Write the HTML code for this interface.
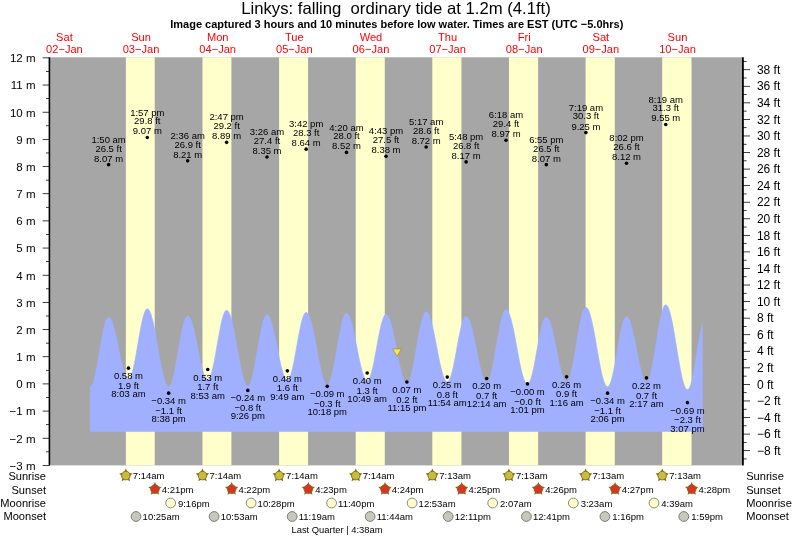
<!DOCTYPE html><html><head><meta charset="utf-8"><title>Tide</title>
<style>html,body{margin:0;padding:0;background:#fff}svg{display:block;will-change:transform}text{font-family:"Liberation Sans",sans-serif;fill:#000}</style></head><body>
<svg width="793" height="539" viewBox="0 0 793 539">
<rect width="793" height="539" fill="#fff"/>
<rect x="50" y="57.3" width="693" height="408.09999999999997" fill="#a6a6a6"/>
<rect x="125.85" y="57.3" width="28.86" height="408.09999999999997" fill="#ffffcc"/>
<rect x="202.48" y="57.3" width="28.91" height="408.09999999999997" fill="#ffffcc"/>
<rect x="279.11" y="57.3" width="28.97" height="408.09999999999997" fill="#ffffcc"/>
<rect x="355.74" y="57.3" width="29.02" height="408.09999999999997" fill="#ffffcc"/>
<rect x="432.32" y="57.3" width="29.13" height="408.09999999999997" fill="#ffffcc"/>
<rect x="508.95" y="57.3" width="29.18" height="408.09999999999997" fill="#ffffcc"/>
<rect x="585.58" y="57.3" width="29.23" height="408.09999999999997" fill="#ffffcc"/>
<rect x="662.22" y="57.3" width="29.29" height="408.09999999999997" fill="#ffffcc"/>
<path d="M90.30 431.55 L90.30 386.87 L90.80 386.66 L91.30 386.20 L91.80 385.49 L92.30 384.55 L92.80 383.36 L93.30 381.95 L93.80 380.32 L94.30 378.49 L94.80 376.46 L95.30 374.26 L95.80 371.90 L96.30 369.39 L96.80 366.76 L97.30 364.02 L97.80 361.19 L98.30 358.30 L98.80 355.36 L99.30 352.40 L99.80 349.43 L100.30 346.48 L100.80 343.57 L101.30 340.72 L101.80 337.96 L102.30 335.29 L102.80 332.75 L103.30 330.34 L103.80 328.09 L104.30 326.02 L104.80 324.13 L105.30 322.44 L105.80 320.97 L106.30 319.72 L106.80 318.70 L107.30 317.92 L107.80 317.39 L108.30 317.12 L108.80 317.08 L109.30 317.26 L109.80 317.62 L110.30 318.18 L110.80 318.92 L111.30 319.85 L111.80 320.95 L112.30 322.23 L112.80 323.66 L113.30 325.25 L113.80 326.98 L114.30 328.84 L114.80 330.82 L115.30 332.92 L115.80 335.10 L116.30 337.37 L116.80 339.70 L117.30 342.09 L117.80 344.51 L118.30 346.96 L118.80 349.41 L119.30 351.86 L119.80 354.28 L120.30 356.66 L120.80 358.99 L121.30 361.25 L121.80 363.43 L122.30 365.51 L122.80 367.49 L123.30 369.34 L123.80 371.06 L124.30 372.63 L124.80 374.05 L125.30 375.31 L125.80 376.40 L126.30 377.31 L126.80 378.04 L127.30 378.58 L127.80 378.93 L128.30 379.09 L128.80 379.04 L129.30 378.75 L129.80 378.21 L130.30 377.44 L130.80 376.44 L131.30 375.21 L131.80 373.76 L132.30 372.11 L132.80 370.26 L133.30 368.23 L133.80 366.03 L134.30 363.67 L134.80 361.18 L135.30 358.57 L135.80 355.85 L136.30 353.06 L136.80 350.20 L137.30 347.30 L137.80 344.37 L138.30 341.44 L138.80 338.53 L139.30 335.66 L139.80 332.84 L140.30 330.10 L140.80 327.46 L141.30 324.93 L141.80 322.53 L142.30 320.28 L142.80 318.20 L143.30 316.30 L143.80 314.58 L144.30 313.07 L144.80 311.78 L145.30 310.71 L145.80 309.87 L146.30 309.27 L146.80 308.91 L147.30 308.79 L147.80 308.90 L148.30 309.22 L148.80 309.74 L149.30 310.48 L149.80 311.41 L150.30 312.55 L150.80 313.87 L151.30 315.37 L151.80 317.06 L152.30 318.90 L152.80 320.91 L153.30 323.06 L153.80 325.34 L154.30 327.75 L154.80 330.26 L155.30 332.87 L155.80 335.56 L156.30 338.31 L156.80 341.12 L157.30 343.96 L157.80 346.82 L158.30 349.69 L158.80 352.54 L159.30 355.38 L159.80 358.16 L160.30 360.90 L160.80 363.56 L161.30 366.14 L161.80 368.61 L162.30 370.98 L162.80 373.21 L163.30 375.31 L163.80 377.27 L164.30 379.06 L164.80 380.68 L165.30 382.12 L165.80 383.38 L166.30 384.44 L166.80 385.31 L167.30 385.97 L167.80 386.42 L168.30 386.67 L168.80 386.70 L169.30 386.50 L169.80 386.06 L170.30 385.39 L170.80 384.48 L171.30 383.34 L171.80 381.99 L172.30 380.44 L172.80 378.68 L173.30 376.74 L173.80 374.62 L174.30 372.35 L174.80 369.93 L175.30 367.39 L175.80 364.73 L176.30 361.99 L176.80 359.17 L177.30 356.30 L177.80 353.40 L178.30 350.48 L178.80 347.57 L179.30 344.69 L179.80 341.84 L180.30 339.07 L180.80 336.37 L181.30 333.78 L181.80 331.31 L182.30 328.97 L182.80 326.78 L183.30 324.76 L183.80 322.93 L184.30 321.28 L184.80 319.84 L185.30 318.61 L185.80 317.60 L186.30 316.83 L186.80 316.28 L187.30 315.98 L187.80 315.91 L188.30 316.06 L188.80 316.39 L189.30 316.92 L189.80 317.64 L190.30 318.54 L190.80 319.62 L191.30 320.87 L191.80 322.29 L192.30 323.86 L192.80 325.58 L193.30 327.43 L193.80 329.41 L194.30 331.50 L194.80 333.69 L195.30 335.97 L195.80 338.32 L196.30 340.72 L196.80 343.17 L197.30 345.64 L197.80 348.13 L198.30 350.62 L198.80 353.09 L199.30 355.52 L199.80 357.91 L200.30 360.23 L200.80 362.48 L201.30 364.64 L201.80 366.69 L202.30 368.63 L202.80 370.44 L203.30 372.11 L203.80 373.63 L204.30 374.99 L204.80 376.19 L205.30 377.21 L205.80 378.05 L206.30 378.70 L206.80 379.16 L207.30 379.43 L207.80 379.51 L208.30 379.36 L208.80 378.98 L209.30 378.36 L209.80 377.50 L210.30 376.42 L210.80 375.12 L211.30 373.61 L211.80 371.90 L212.30 370.00 L212.80 367.93 L213.30 365.70 L213.80 363.32 L214.30 360.82 L214.80 358.20 L215.30 355.49 L215.80 352.71 L216.30 349.88 L216.80 347.01 L217.30 344.12 L217.80 341.24 L218.30 338.39 L218.80 335.58 L219.30 332.83 L219.80 330.17 L220.30 327.61 L220.80 325.18 L221.30 322.88 L221.80 320.73 L222.30 318.75 L222.80 316.95 L223.30 315.34 L223.80 313.95 L224.30 312.76 L224.80 311.80 L225.30 311.07 L225.80 310.57 L226.30 310.32 L226.80 310.30 L227.30 310.49 L227.80 310.89 L228.30 311.49 L228.80 312.29 L229.30 313.29 L229.80 314.47 L230.30 315.85 L230.80 317.39 L231.30 319.11 L231.80 320.98 L232.30 323.01 L232.80 325.17 L233.30 327.45 L233.80 329.85 L234.30 332.35 L234.80 334.93 L235.30 337.58 L235.80 340.30 L236.30 343.05 L236.80 345.84 L237.30 348.63 L237.80 351.42 L238.30 354.20 L238.80 356.94 L239.30 359.63 L239.80 362.26 L240.30 364.81 L240.80 367.27 L241.30 369.63 L241.80 371.86 L242.30 373.97 L242.80 375.94 L243.30 377.75 L243.80 379.40 L244.30 380.88 L244.80 382.18 L245.30 383.29 L245.80 384.21 L246.30 384.94 L246.80 385.46 L247.30 385.78 L247.80 385.89 L248.30 385.78 L248.80 385.43 L249.30 384.84 L249.80 384.03 L250.30 382.98 L250.80 381.72 L251.30 380.25 L251.80 378.57 L252.30 376.71 L252.80 374.67 L253.30 372.46 L253.80 370.11 L254.30 367.62 L254.80 365.02 L255.30 362.31 L255.80 359.53 L256.30 356.69 L256.80 353.80 L257.30 350.89 L257.80 347.97 L258.30 345.07 L258.80 342.21 L259.30 339.40 L259.80 336.67 L260.30 334.02 L260.80 331.49 L261.30 329.08 L261.80 326.81 L262.30 324.71 L262.80 322.77 L263.30 321.02 L263.80 319.47 L264.30 318.12 L264.80 316.99 L265.30 316.09 L265.80 315.41 L266.30 314.97 L266.80 314.77 L267.30 314.79 L267.80 315.01 L268.30 315.43 L268.80 316.03 L269.30 316.82 L269.80 317.79 L270.30 318.93 L270.80 320.25 L271.30 321.72 L271.80 323.35 L272.30 325.12 L272.80 327.02 L273.30 329.04 L273.80 331.17 L274.30 333.40 L274.80 335.71 L275.30 338.09 L275.80 340.52 L276.30 342.99 L276.80 345.49 L277.30 348.00 L277.80 350.51 L278.30 353.00 L278.80 355.45 L279.30 357.86 L279.80 360.20 L280.30 362.47 L280.80 364.64 L281.30 366.72 L281.80 368.68 L282.30 370.51 L282.80 372.21 L283.30 373.75 L283.80 375.14 L284.30 376.37 L284.80 377.42 L285.30 378.30 L285.80 378.99 L286.30 379.49 L286.80 379.80 L287.30 379.92 L287.80 379.83 L288.30 379.51 L288.80 378.95 L289.30 378.16 L289.80 377.15 L290.30 375.92 L290.80 374.48 L291.30 372.85 L291.80 371.03 L292.30 369.03 L292.80 366.87 L293.30 364.57 L293.80 362.14 L294.30 359.60 L294.80 356.97 L295.30 354.26 L295.80 351.49 L296.30 348.68 L296.80 345.86 L297.30 343.04 L297.80 340.24 L298.30 337.48 L298.80 334.79 L299.30 332.17 L299.80 329.65 L300.30 327.24 L300.80 324.97 L301.30 322.84 L301.80 320.88 L302.30 319.09 L302.80 317.50 L303.30 316.10 L303.80 314.91 L304.30 313.94 L304.80 313.20 L305.30 312.68 L305.80 312.40 L306.30 312.36 L306.80 312.52 L307.30 312.88 L307.80 313.44 L308.30 314.20 L308.80 315.15 L309.30 316.28 L309.80 317.59 L310.30 319.07 L310.80 320.71 L311.30 322.51 L311.80 324.45 L312.30 326.53 L312.80 328.73 L313.30 331.04 L313.80 333.44 L314.30 335.93 L314.80 338.49 L315.30 341.11 L315.80 343.76 L316.30 346.44 L316.80 349.14 L317.30 351.83 L317.80 354.50 L318.30 357.14 L318.80 359.73 L319.30 362.25 L319.80 364.71 L320.30 367.07 L320.80 369.32 L321.30 371.47 L321.80 373.48 L322.30 375.36 L322.80 377.08 L323.30 378.65 L323.80 380.05 L324.30 381.28 L324.80 382.32 L325.30 383.18 L325.80 383.84 L326.30 384.31 L326.80 384.58 L327.30 384.64 L327.80 384.48 L328.30 384.09 L328.80 383.47 L329.30 382.61 L329.80 381.53 L330.30 380.24 L330.80 378.73 L331.30 377.03 L331.80 375.15 L332.30 373.09 L332.80 370.87 L333.30 368.50 L333.80 366.00 L334.30 363.40 L334.80 360.69 L335.30 357.91 L335.80 355.07 L336.30 352.19 L336.80 349.29 L337.30 346.38 L337.80 343.49 L338.30 340.64 L338.80 337.85 L339.30 335.13 L339.80 332.50 L340.30 329.98 L340.80 327.58 L341.30 325.33 L341.80 323.24 L342.30 321.32 L342.80 319.58 L343.30 318.04 L343.80 316.70 L344.30 315.58 L344.80 314.68 L345.30 314.00 L345.80 313.56 L346.30 313.36 L346.80 313.38 L347.30 313.60 L347.80 314.01 L348.30 314.61 L348.80 315.40 L349.30 316.37 L349.80 317.51 L350.30 318.83 L350.80 320.31 L351.30 321.94 L351.80 323.71 L352.30 325.62 L352.80 327.65 L353.30 329.79 L353.80 332.03 L354.30 334.36 L354.80 336.76 L355.30 339.21 L355.80 341.72 L356.30 344.25 L356.80 346.80 L357.30 349.35 L357.80 351.88 L358.30 354.39 L358.80 356.85 L359.30 359.26 L359.80 361.60 L360.30 363.85 L360.80 366.01 L361.30 368.05 L361.80 369.98 L362.30 371.77 L362.80 373.42 L363.30 374.91 L363.80 376.25 L364.30 377.42 L364.80 378.41 L365.30 379.22 L365.80 379.85 L366.30 380.29 L366.80 380.53 L367.30 380.58 L367.80 380.41 L368.30 380.02 L368.80 379.39 L369.30 378.55 L369.80 377.49 L370.30 376.22 L370.80 374.76 L371.30 373.10 L371.80 371.27 L372.30 369.27 L372.80 367.12 L373.30 364.84 L373.80 362.43 L374.30 359.92 L374.80 357.33 L375.30 354.67 L375.80 351.96 L376.30 349.21 L376.80 346.46 L377.30 343.71 L377.80 340.99 L378.30 338.32 L378.80 335.71 L379.30 333.18 L379.80 330.75 L380.30 328.44 L380.80 326.26 L381.30 324.23 L381.80 322.36 L382.30 320.67 L382.80 319.16 L383.30 317.85 L383.80 316.75 L384.30 315.86 L384.80 315.19 L385.30 314.74 L385.80 314.52 L386.30 314.53 L386.80 314.74 L387.30 315.14 L387.80 315.73 L388.30 316.51 L388.80 317.47 L389.30 318.61 L389.80 319.92 L390.30 321.40 L390.80 323.03 L391.30 324.81 L391.80 326.73 L392.30 328.77 L392.80 330.92 L393.30 333.18 L393.80 335.53 L394.30 337.95 L394.80 340.43 L395.30 342.97 L395.80 345.53 L396.30 348.12 L396.80 350.71 L397.30 353.29 L397.80 355.84 L398.30 358.36 L398.80 360.82 L399.30 363.22 L399.80 365.53 L400.30 367.75 L400.80 369.86 L401.30 371.86 L401.80 373.72 L402.30 375.44 L402.80 377.02 L403.30 378.43 L403.80 379.68 L404.30 380.75 L404.80 381.64 L405.30 382.35 L405.80 382.86 L406.30 383.19 L406.80 383.32 L407.30 383.24 L407.80 382.92 L408.30 382.37 L408.80 381.58 L409.30 380.57 L409.80 379.34 L410.30 377.90 L410.80 376.26 L411.30 374.42 L411.80 372.41 L412.30 370.23 L412.80 367.90 L413.30 365.44 L413.80 362.85 L414.30 360.16 L414.80 357.39 L415.30 354.56 L415.80 351.67 L416.30 348.76 L416.80 345.84 L417.30 342.93 L417.80 340.06 L418.30 337.23 L418.80 334.47 L419.30 331.79 L419.80 329.22 L420.30 326.77 L420.80 324.46 L421.30 322.31 L421.80 320.32 L422.30 318.51 L422.80 316.89 L423.30 315.48 L423.80 314.28 L424.30 313.30 L424.80 312.55 L425.30 312.03 L425.80 311.74 L426.30 311.70 L426.80 311.85 L427.30 312.20 L427.80 312.74 L428.30 313.47 L428.80 314.38 L429.30 315.47 L429.80 316.73 L430.30 318.16 L430.80 319.75 L431.30 321.49 L431.80 323.36 L432.30 325.37 L432.80 327.49 L433.30 329.72 L433.80 332.05 L434.30 334.45 L434.80 336.92 L435.30 339.45 L435.80 342.02 L436.30 344.61 L436.80 347.22 L437.30 349.82 L437.80 352.41 L438.30 354.97 L438.80 357.48 L439.30 359.93 L439.80 362.31 L440.30 364.60 L440.80 366.79 L441.30 368.87 L441.80 370.84 L442.30 372.66 L442.80 374.35 L443.30 375.88 L443.80 377.25 L444.30 378.45 L444.80 379.48 L445.30 380.33 L445.80 380.99 L446.30 381.46 L446.80 381.74 L447.30 381.83 L447.80 381.70 L448.30 381.35 L448.80 380.77 L449.30 379.98 L449.80 378.96 L450.30 377.74 L450.80 376.32 L451.30 374.71 L451.80 372.93 L452.30 370.97 L452.80 368.87 L453.30 366.62 L453.80 364.26 L454.30 361.78 L454.80 359.22 L455.30 356.59 L455.80 353.91 L456.30 351.19 L456.80 348.46 L457.30 345.73 L457.80 343.02 L458.30 340.36 L458.80 337.75 L459.30 335.23 L459.80 332.80 L460.30 330.48 L460.80 328.29 L461.30 326.25 L461.80 324.37 L462.30 322.65 L462.80 321.12 L463.30 319.78 L463.80 318.65 L464.30 317.73 L464.80 317.02 L465.30 316.54 L465.80 316.29 L466.30 316.25 L466.80 316.42 L467.30 316.78 L467.80 317.33 L468.30 318.07 L468.80 318.99 L469.30 320.08 L469.80 321.35 L470.30 322.78 L470.80 324.36 L471.30 326.09 L471.80 327.95 L472.30 329.94 L472.80 332.04 L473.30 334.25 L473.80 336.54 L474.30 338.90 L474.80 341.32 L475.30 343.80 L475.80 346.30 L476.30 348.82 L476.80 351.34 L477.30 353.85 L477.80 356.33 L478.30 358.77 L478.80 361.16 L479.30 363.48 L479.80 365.71 L480.30 367.85 L480.80 369.87 L481.30 371.78 L481.80 373.56 L482.30 375.19 L482.80 376.67 L483.30 377.99 L483.80 379.15 L484.30 380.13 L484.80 380.92 L485.30 381.54 L485.80 381.96 L486.30 382.20 L486.80 382.23 L487.30 382.05 L487.80 381.62 L488.30 380.96 L488.80 380.07 L489.30 378.95 L489.80 377.62 L490.30 376.08 L490.80 374.34 L491.30 372.42 L491.80 370.32 L492.30 368.06 L492.80 365.65 L493.30 363.12 L493.80 360.47 L494.30 357.73 L494.80 354.91 L495.30 352.03 L495.80 349.11 L496.30 346.17 L496.80 343.23 L497.30 340.30 L497.80 337.41 L498.30 334.58 L498.80 331.83 L499.30 329.16 L499.80 326.61 L500.30 324.18 L500.80 321.90 L501.30 319.77 L501.80 317.82 L502.30 316.05 L502.80 314.47 L503.30 313.11 L503.80 311.96 L504.30 311.03 L504.80 310.33 L505.30 309.87 L505.80 309.64 L506.30 309.65 L506.80 309.85 L507.30 310.26 L507.80 310.86 L508.30 311.66 L508.80 312.64 L509.30 313.81 L509.80 315.15 L510.30 316.66 L510.80 318.33 L511.30 320.16 L511.80 322.13 L512.30 324.23 L512.80 326.45 L513.30 328.78 L513.80 331.21 L514.30 333.72 L514.80 336.30 L515.30 338.93 L515.80 341.61 L516.30 344.32 L516.80 347.04 L517.30 349.75 L517.80 352.45 L518.30 355.12 L518.80 357.75 L519.30 360.32 L519.80 362.81 L520.30 365.22 L520.80 367.53 L521.30 369.72 L521.80 371.80 L522.30 373.74 L522.80 375.54 L523.30 377.18 L523.80 378.65 L524.30 379.96 L524.80 381.09 L525.30 382.04 L525.80 382.79 L526.30 383.35 L526.80 383.72 L527.30 383.89 L527.80 383.85 L528.30 383.58 L528.80 383.08 L529.30 382.36 L529.80 381.41 L530.30 380.25 L530.80 378.89 L531.30 377.32 L531.80 375.57 L532.30 373.64 L532.80 371.56 L533.30 369.32 L533.80 366.96 L534.30 364.48 L534.80 361.90 L535.30 359.25 L535.80 356.53 L536.30 353.78 L536.80 350.99 L537.30 348.21 L537.80 345.44 L538.30 342.71 L538.80 340.03 L539.30 337.42 L539.80 334.91 L540.30 332.50 L540.80 330.21 L541.30 328.07 L541.80 326.09 L542.30 324.27 L542.80 322.63 L543.30 321.19 L543.80 319.96 L544.30 318.93 L544.80 318.12 L545.30 317.54 L545.80 317.19 L546.30 317.07 L546.80 317.16 L547.30 317.45 L547.80 317.93 L548.30 318.59 L548.80 319.44 L549.30 320.48 L549.80 321.68 L550.30 323.05 L550.80 324.58 L551.30 326.26 L551.80 328.08 L552.30 330.02 L552.80 332.08 L553.30 334.25 L553.80 336.51 L554.30 338.84 L554.80 341.24 L555.30 343.68 L555.80 346.16 L556.30 348.66 L556.80 351.17 L557.30 353.66 L557.80 356.13 L558.30 358.56 L558.80 360.93 L559.30 363.23 L559.80 365.46 L560.30 367.58 L560.80 369.60 L561.30 371.49 L561.80 373.25 L562.30 374.87 L562.80 376.34 L563.30 377.64 L563.80 378.78 L564.30 379.74 L564.80 380.52 L565.30 381.11 L565.80 381.51 L566.30 381.71 L566.80 381.72 L567.30 381.50 L567.80 381.02 L568.30 380.31 L568.80 379.36 L569.30 378.18 L569.80 376.78 L570.30 375.16 L570.80 373.34 L571.30 371.34 L571.80 369.15 L572.30 366.80 L572.80 364.30 L573.30 361.68 L573.80 358.94 L574.30 356.10 L574.80 353.19 L575.30 350.22 L575.80 347.22 L576.30 344.19 L576.80 341.17 L577.30 338.17 L577.80 335.21 L578.30 332.31 L578.80 329.50 L579.30 326.78 L579.80 324.18 L580.30 321.72 L580.80 319.40 L581.30 317.25 L581.80 315.29 L582.30 313.51 L582.80 311.94 L583.30 310.59 L583.80 309.46 L584.30 308.56 L584.80 307.90 L585.30 307.48 L585.80 307.30 L586.30 307.36 L586.80 307.63 L587.30 308.11 L587.80 308.79 L588.30 309.67 L588.80 310.75 L589.30 312.02 L589.80 313.47 L590.30 315.10 L590.80 316.90 L591.30 318.85 L591.80 320.95 L592.30 323.19 L592.80 325.56 L593.30 328.04 L593.80 330.61 L594.30 333.28 L594.80 336.01 L595.30 338.81 L595.80 341.64 L596.30 344.51 L596.80 347.39 L597.30 350.26 L597.80 353.12 L598.30 355.95 L598.80 358.73 L599.30 361.45 L599.80 364.09 L600.30 366.64 L600.80 369.09 L601.30 371.43 L601.80 373.63 L602.30 375.70 L602.80 377.61 L603.30 379.36 L603.80 380.95 L604.30 382.35 L604.80 383.57 L605.30 384.60 L605.80 385.42 L606.30 386.05 L606.80 386.47 L607.30 386.69 L607.80 386.69 L608.30 386.45 L608.80 385.98 L609.30 385.27 L609.80 384.33 L610.30 383.17 L610.80 381.79 L611.30 380.20 L611.80 378.42 L612.30 376.45 L612.80 374.32 L613.30 372.03 L613.80 369.59 L614.30 367.04 L614.80 364.38 L615.30 361.63 L615.80 358.81 L616.30 355.95 L616.80 353.06 L617.30 350.15 L617.80 347.26 L618.30 344.40 L618.80 341.58 L619.30 338.84 L619.80 336.18 L620.30 333.64 L620.80 331.21 L621.30 328.93 L621.80 326.80 L622.30 324.84 L622.80 323.07 L623.30 321.50 L623.80 320.13 L624.30 318.98 L624.80 318.05 L625.30 317.36 L625.80 316.90 L626.30 316.68 L626.80 316.69 L627.30 316.91 L627.80 317.33 L628.30 317.95 L628.80 318.76 L629.30 319.76 L629.80 320.95 L630.30 322.31 L630.80 323.84 L631.30 325.53 L631.80 327.36 L632.30 329.33 L632.80 331.43 L633.30 333.64 L633.80 335.94 L634.30 338.33 L634.80 340.78 L635.30 343.29 L635.80 345.84 L636.30 348.41 L636.80 350.98 L637.30 353.54 L637.80 356.08 L638.30 358.58 L638.80 361.02 L639.30 363.39 L639.80 365.67 L640.30 367.85 L640.80 369.91 L641.30 371.85 L641.80 373.65 L642.30 375.30 L642.80 376.78 L643.30 378.10 L643.80 379.24 L644.30 380.20 L644.80 380.96 L645.30 381.53 L645.80 381.90 L646.30 382.07 L646.80 382.02 L647.30 381.72 L647.80 381.17 L648.30 380.36 L648.80 379.31 L649.30 378.02 L649.80 376.50 L650.30 374.76 L650.80 372.82 L651.30 370.68 L651.80 368.35 L652.30 365.87 L652.80 363.23 L653.30 360.46 L653.80 357.58 L654.30 354.60 L654.80 351.56 L655.30 348.45 L655.80 345.32 L656.30 342.17 L656.80 339.03 L657.30 335.91 L657.80 332.85 L658.30 329.86 L658.80 326.96 L659.30 324.17 L659.80 321.51 L660.30 318.99 L660.80 316.64 L661.30 314.46 L661.80 312.48 L662.30 310.70 L662.80 309.14 L663.30 307.80 L663.80 306.71 L664.30 305.86 L664.80 305.26 L665.30 304.91 L665.80 304.81 L666.30 304.96 L666.80 305.32 L667.30 305.90 L667.80 306.70 L668.30 307.71 L668.80 308.93 L669.30 310.35 L669.80 311.96 L670.30 313.75 L670.80 315.72 L671.30 317.86 L671.80 320.15 L672.30 322.58 L672.80 325.13 L673.30 327.81 L673.80 330.58 L674.30 333.45 L674.80 336.38 L675.30 339.37 L675.80 342.41 L676.30 345.46 L676.80 348.53 L677.30 351.59 L677.80 354.63 L678.30 357.63 L678.80 360.57 L679.30 363.44 L679.80 366.23 L680.30 368.92 L680.80 371.50 L681.30 373.95 L681.80 376.26 L682.30 378.41 L682.80 380.41 L683.30 382.23 L683.80 383.86 L684.30 385.31 L684.80 386.55 L685.30 387.59 L685.80 388.42 L686.30 389.04 L686.80 389.43 L687.30 389.61 L687.80 389.55 L688.30 389.24 L688.80 388.68 L689.30 387.88 L689.80 386.83 L690.30 385.55 L690.80 384.05 L691.30 382.32 L691.80 380.40 L692.30 378.29 L692.80 376.00 L693.30 373.55 L693.80 370.96 L694.30 368.24 L694.80 365.42 L695.30 362.51 L695.80 359.54 L696.30 356.52 L696.80 353.47 L697.30 350.42 L697.80 347.38 L698.30 344.38 L698.80 341.44 L699.30 338.58 L699.80 335.81 L700.30 333.17 L700.80 330.65 L701.30 328.29 L701.80 326.10 L702.30 324.09 L702.50 431.55 Z" fill="#a0b0ff" stroke="#a0b0ff" stroke-width="0.6" stroke-linejoin="round"/>
<rect x="48.6" y="57.3" width="1.6" height="408.09999999999997" fill="#000"/>
<rect x="742" y="57.3" width="1.8" height="408.09999999999997" fill="#000"/>
<rect x="42.6" y="465.04" width="7" height="0.75" fill="#000"/>
<text x="35.5" y="469.81" font-size="11.5" text-anchor="end">−3 m</text>
<rect x="46" y="451.45" width="3.5" height="0.75" fill="#000"/>
<rect x="42.6" y="437.87" width="7" height="0.75" fill="#000"/>
<text x="35.5" y="442.64" font-size="11.5" text-anchor="end">−2 m</text>
<rect x="46" y="424.28" width="3.5" height="0.75" fill="#000"/>
<rect x="42.6" y="410.70" width="7" height="0.75" fill="#000"/>
<text x="35.5" y="415.47" font-size="11.5" text-anchor="end">−1 m</text>
<rect x="46" y="397.11" width="3.5" height="0.75" fill="#000"/>
<rect x="42.6" y="383.53" width="7" height="0.75" fill="#000"/>
<text x="35.5" y="388.30" font-size="11.5" text-anchor="end">0 m</text>
<rect x="46" y="369.94" width="3.5" height="0.75" fill="#000"/>
<rect x="42.6" y="356.36" width="7" height="0.75" fill="#000"/>
<text x="35.5" y="361.13" font-size="11.5" text-anchor="end">1 m</text>
<rect x="46" y="342.77" width="3.5" height="0.75" fill="#000"/>
<rect x="42.6" y="329.19" width="7" height="0.75" fill="#000"/>
<text x="35.5" y="333.96" font-size="11.5" text-anchor="end">2 m</text>
<rect x="46" y="315.60" width="3.5" height="0.75" fill="#000"/>
<rect x="42.6" y="302.02" width="7" height="0.75" fill="#000"/>
<text x="35.5" y="306.79" font-size="11.5" text-anchor="end">3 m</text>
<rect x="46" y="288.43" width="3.5" height="0.75" fill="#000"/>
<rect x="42.6" y="274.85" width="7" height="0.75" fill="#000"/>
<text x="35.5" y="279.62" font-size="11.5" text-anchor="end">4 m</text>
<rect x="46" y="261.26" width="3.5" height="0.75" fill="#000"/>
<rect x="42.6" y="247.68" width="7" height="0.75" fill="#000"/>
<text x="35.5" y="252.45" font-size="11.5" text-anchor="end">5 m</text>
<rect x="46" y="234.09" width="3.5" height="0.75" fill="#000"/>
<rect x="42.6" y="220.51" width="7" height="0.75" fill="#000"/>
<text x="35.5" y="225.28" font-size="11.5" text-anchor="end">6 m</text>
<rect x="46" y="206.92" width="3.5" height="0.75" fill="#000"/>
<rect x="42.6" y="193.34" width="7" height="0.75" fill="#000"/>
<text x="35.5" y="198.11" font-size="11.5" text-anchor="end">7 m</text>
<rect x="46" y="179.75" width="3.5" height="0.75" fill="#000"/>
<rect x="42.6" y="166.17" width="7" height="0.75" fill="#000"/>
<text x="35.5" y="170.94" font-size="11.5" text-anchor="end">8 m</text>
<rect x="46" y="152.58" width="3.5" height="0.75" fill="#000"/>
<rect x="42.6" y="139.00" width="7" height="0.75" fill="#000"/>
<text x="35.5" y="143.77" font-size="11.5" text-anchor="end">9 m</text>
<rect x="46" y="125.41" width="3.5" height="0.75" fill="#000"/>
<rect x="42.6" y="111.83" width="7" height="0.75" fill="#000"/>
<text x="35.5" y="116.60" font-size="11.5" text-anchor="end">10 m</text>
<rect x="46" y="98.24" width="3.5" height="0.75" fill="#000"/>
<rect x="42.6" y="84.66" width="7" height="0.75" fill="#000"/>
<text x="35.5" y="89.43" font-size="11.5" text-anchor="end">11 m</text>
<rect x="46" y="71.07" width="3.5" height="0.75" fill="#000"/>
<rect x="42.6" y="57.49" width="7" height="0.75" fill="#000"/>
<text x="35.5" y="62.26" font-size="11.5" text-anchor="end">12 m</text>
<rect x="743" y="458.56" width="3.6" height="0.75" fill="#000"/>
<rect x="743" y="450.28" width="7" height="0.75" fill="#000"/>
<text x="756.9" y="454.85" font-size="12">−8 ft</text>
<rect x="743" y="442.00" width="3.6" height="0.75" fill="#000"/>
<rect x="743" y="433.72" width="7" height="0.75" fill="#000"/>
<text x="756.9" y="438.29" font-size="12">−6 ft</text>
<rect x="743" y="425.44" width="3.6" height="0.75" fill="#000"/>
<rect x="743" y="417.16" width="7" height="0.75" fill="#000"/>
<text x="756.9" y="421.73" font-size="12">−4 ft</text>
<rect x="743" y="408.87" width="3.6" height="0.75" fill="#000"/>
<rect x="743" y="400.59" width="7" height="0.75" fill="#000"/>
<text x="756.9" y="405.16" font-size="12">−2 ft</text>
<rect x="743" y="392.31" width="3.6" height="0.75" fill="#000"/>
<rect x="743" y="384.03" width="7" height="0.75" fill="#000"/>
<text x="756.9" y="388.60" font-size="12">0 ft</text>
<rect x="743" y="375.75" width="3.6" height="0.75" fill="#000"/>
<rect x="743" y="367.47" width="7" height="0.75" fill="#000"/>
<text x="756.9" y="372.04" font-size="12">2 ft</text>
<rect x="743" y="359.19" width="3.6" height="0.75" fill="#000"/>
<rect x="743" y="350.90" width="7" height="0.75" fill="#000"/>
<text x="756.9" y="355.47" font-size="12">4 ft</text>
<rect x="743" y="342.62" width="3.6" height="0.75" fill="#000"/>
<rect x="743" y="334.34" width="7" height="0.75" fill="#000"/>
<text x="756.9" y="338.91" font-size="12">6 ft</text>
<rect x="743" y="326.06" width="3.6" height="0.75" fill="#000"/>
<rect x="743" y="317.78" width="7" height="0.75" fill="#000"/>
<text x="756.9" y="322.35" font-size="12">8 ft</text>
<rect x="743" y="309.50" width="3.6" height="0.75" fill="#000"/>
<rect x="743" y="301.22" width="7" height="0.75" fill="#000"/>
<text x="756.9" y="305.79" font-size="12">10 ft</text>
<rect x="743" y="292.93" width="3.6" height="0.75" fill="#000"/>
<rect x="743" y="284.65" width="7" height="0.75" fill="#000"/>
<text x="756.9" y="289.22" font-size="12">12 ft</text>
<rect x="743" y="276.37" width="3.6" height="0.75" fill="#000"/>
<rect x="743" y="268.09" width="7" height="0.75" fill="#000"/>
<text x="756.9" y="272.66" font-size="12">14 ft</text>
<rect x="743" y="259.81" width="3.6" height="0.75" fill="#000"/>
<rect x="743" y="251.53" width="7" height="0.75" fill="#000"/>
<text x="756.9" y="256.10" font-size="12">16 ft</text>
<rect x="743" y="243.25" width="3.6" height="0.75" fill="#000"/>
<rect x="743" y="234.96" width="7" height="0.75" fill="#000"/>
<text x="756.9" y="239.53" font-size="12">18 ft</text>
<rect x="743" y="226.68" width="3.6" height="0.75" fill="#000"/>
<rect x="743" y="218.40" width="7" height="0.75" fill="#000"/>
<text x="756.9" y="222.97" font-size="12">20 ft</text>
<rect x="743" y="210.12" width="3.6" height="0.75" fill="#000"/>
<rect x="743" y="201.84" width="7" height="0.75" fill="#000"/>
<text x="756.9" y="206.41" font-size="12">22 ft</text>
<rect x="743" y="193.56" width="3.6" height="0.75" fill="#000"/>
<rect x="743" y="185.28" width="7" height="0.75" fill="#000"/>
<text x="756.9" y="189.85" font-size="12">24 ft</text>
<rect x="743" y="176.99" width="3.6" height="0.75" fill="#000"/>
<rect x="743" y="168.71" width="7" height="0.75" fill="#000"/>
<text x="756.9" y="173.28" font-size="12">26 ft</text>
<rect x="743" y="160.43" width="3.6" height="0.75" fill="#000"/>
<rect x="743" y="152.15" width="7" height="0.75" fill="#000"/>
<text x="756.9" y="156.72" font-size="12">28 ft</text>
<rect x="743" y="143.87" width="3.6" height="0.75" fill="#000"/>
<rect x="743" y="135.59" width="7" height="0.75" fill="#000"/>
<text x="756.9" y="140.16" font-size="12">30 ft</text>
<rect x="743" y="127.31" width="3.6" height="0.75" fill="#000"/>
<rect x="743" y="119.02" width="7" height="0.75" fill="#000"/>
<text x="756.9" y="123.59" font-size="12">32 ft</text>
<rect x="743" y="110.74" width="3.6" height="0.75" fill="#000"/>
<rect x="743" y="102.46" width="7" height="0.75" fill="#000"/>
<text x="756.9" y="107.03" font-size="12">34 ft</text>
<rect x="743" y="94.18" width="3.6" height="0.75" fill="#000"/>
<rect x="743" y="85.90" width="7" height="0.75" fill="#000"/>
<text x="756.9" y="90.47" font-size="12">36 ft</text>
<rect x="743" y="77.62" width="3.6" height="0.75" fill="#000"/>
<rect x="743" y="69.34" width="7" height="0.75" fill="#000"/>
<text x="756.9" y="73.91" font-size="12">38 ft</text>
<rect x="743" y="61.05" width="3.6" height="0.75" fill="#000"/>
<text x="396" y="14.0" font-size="16.68" text-anchor="middle">Linkys: falling  ordinary tide at 1.2m (4.1ft)</text>
<text x="396.8" y="28.1" font-size="11" font-weight="bold" text-anchor="middle">Image captured 3 hours and 10 minutes before low water. Times are EST (UTC −5.0hrs)</text>
<text x="64.43" y="41.2" font-size="11.1" text-anchor="middle" style="fill:#ff0000">Sat</text>
<text x="64.43" y="52.8" font-size="11.1" text-anchor="middle" style="fill:#ff0000">02−Jan</text>
<text x="141.07" y="41.2" font-size="11.1" text-anchor="middle" style="fill:#ff0000">Sun</text>
<text x="141.07" y="52.8" font-size="11.1" text-anchor="middle" style="fill:#ff0000">03−Jan</text>
<text x="217.70" y="41.2" font-size="11.1" text-anchor="middle" style="fill:#ff0000">Mon</text>
<text x="217.70" y="52.8" font-size="11.1" text-anchor="middle" style="fill:#ff0000">04−Jan</text>
<text x="294.33" y="41.2" font-size="11.1" text-anchor="middle" style="fill:#ff0000">Tue</text>
<text x="294.33" y="52.8" font-size="11.1" text-anchor="middle" style="fill:#ff0000">05−Jan</text>
<text x="370.96" y="41.2" font-size="11.1" text-anchor="middle" style="fill:#ff0000">Wed</text>
<text x="370.96" y="52.8" font-size="11.1" text-anchor="middle" style="fill:#ff0000">06−Jan</text>
<text x="447.59" y="41.2" font-size="11.1" text-anchor="middle" style="fill:#ff0000">Thu</text>
<text x="447.59" y="52.8" font-size="11.1" text-anchor="middle" style="fill:#ff0000">07−Jan</text>
<text x="524.23" y="41.2" font-size="11.1" text-anchor="middle" style="fill:#ff0000">Fri</text>
<text x="524.23" y="52.8" font-size="11.1" text-anchor="middle" style="fill:#ff0000">08−Jan</text>
<text x="600.86" y="41.2" font-size="11.1" text-anchor="middle" style="fill:#ff0000">Sat</text>
<text x="600.86" y="52.8" font-size="11.1" text-anchor="middle" style="fill:#ff0000">09−Jan</text>
<text x="677.49" y="41.2" font-size="11.1" text-anchor="middle" style="fill:#ff0000">Sun</text>
<text x="677.49" y="52.8" font-size="11.1" text-anchor="middle" style="fill:#ff0000">10−Jan</text>
<circle cx="108.60" cy="164.64" r="1.8" fill="#000"/>
<text x="108.60" y="142.74" font-size="9.5" text-anchor="middle">1:50 am</text>
<text x="108.60" y="151.54" font-size="9.5" text-anchor="middle">26.5 ft</text>
<text x="108.60" y="161.64" font-size="9.5" text-anchor="middle">8.07 m</text>
<circle cx="128.45" cy="368.14" r="1.8" fill="#000"/>
<text x="128.45" y="379.14" font-size="9.5" text-anchor="middle">0.58 m</text>
<text x="128.45" y="388.74" font-size="9.5" text-anchor="middle">1.9 ft</text>
<text x="128.45" y="397.14" font-size="9.5" text-anchor="middle">8:03 am</text>
<circle cx="147.29" cy="137.47" r="1.8" fill="#000"/>
<text x="147.29" y="115.57" font-size="9.5" text-anchor="middle">1:57 pm</text>
<text x="147.29" y="124.37" font-size="9.5" text-anchor="middle">29.8 ft</text>
<text x="147.29" y="134.47" font-size="9.5" text-anchor="middle">9.07 m</text>
<circle cx="168.63" cy="393.14" r="1.8" fill="#000"/>
<text x="168.63" y="404.14" font-size="9.5" text-anchor="middle">−0.34 m</text>
<text x="168.63" y="413.74" font-size="9.5" text-anchor="middle">−1.1 ft</text>
<text x="168.63" y="422.14" font-size="9.5" text-anchor="middle">8:38 pm</text>
<circle cx="187.68" cy="160.83" r="1.8" fill="#000"/>
<text x="187.68" y="138.93" font-size="9.5" text-anchor="middle">2:36 am</text>
<text x="187.68" y="147.73" font-size="9.5" text-anchor="middle">26.9 ft</text>
<text x="187.68" y="157.83" font-size="9.5" text-anchor="middle">8.21 m</text>
<circle cx="207.75" cy="369.50" r="1.8" fill="#000"/>
<text x="207.75" y="380.50" font-size="9.5" text-anchor="middle">0.53 m</text>
<text x="207.75" y="390.10" font-size="9.5" text-anchor="middle">1.7 ft</text>
<text x="207.75" y="398.50" font-size="9.5" text-anchor="middle">8:53 am</text>
<circle cx="226.59" cy="142.36" r="1.8" fill="#000"/>
<text x="226.59" y="120.46" font-size="9.5" text-anchor="middle">2:47 pm</text>
<text x="226.59" y="129.26" font-size="9.5" text-anchor="middle">29.2 ft</text>
<text x="226.59" y="139.36" font-size="9.5" text-anchor="middle">8.89 m</text>
<circle cx="247.82" cy="390.42" r="1.8" fill="#000"/>
<text x="247.82" y="401.42" font-size="9.5" text-anchor="middle">−0.24 m</text>
<text x="247.82" y="411.02" font-size="9.5" text-anchor="middle">−0.8 ft</text>
<text x="247.82" y="419.42" font-size="9.5" text-anchor="middle">9:26 pm</text>
<circle cx="266.98" cy="157.03" r="1.8" fill="#000"/>
<text x="266.98" y="135.13" font-size="9.5" text-anchor="middle">3:26 am</text>
<text x="266.98" y="143.93" font-size="9.5" text-anchor="middle">27.4 ft</text>
<text x="266.98" y="154.03" font-size="9.5" text-anchor="middle">8.35 m</text>
<circle cx="287.36" cy="370.86" r="1.8" fill="#000"/>
<text x="287.36" y="381.86" font-size="9.5" text-anchor="middle">0.48 m</text>
<text x="287.36" y="391.46" font-size="9.5" text-anchor="middle">1.6 ft</text>
<text x="287.36" y="399.86" font-size="9.5" text-anchor="middle">9:49 am</text>
<circle cx="306.14" cy="149.15" r="1.8" fill="#000"/>
<text x="306.14" y="127.25" font-size="9.5" text-anchor="middle">3:42 pm</text>
<text x="306.14" y="136.05" font-size="9.5" text-anchor="middle">28.3 ft</text>
<text x="306.14" y="146.15" font-size="9.5" text-anchor="middle">8.64 m</text>
<circle cx="327.22" cy="386.35" r="1.8" fill="#000"/>
<text x="327.22" y="397.35" font-size="9.5" text-anchor="middle">−0.09 m</text>
<text x="327.22" y="406.95" font-size="9.5" text-anchor="middle">−0.3 ft</text>
<text x="327.22" y="415.35" font-size="9.5" text-anchor="middle">10:18 pm</text>
<circle cx="346.48" cy="152.41" r="1.8" fill="#000"/>
<text x="346.48" y="130.51" font-size="9.5" text-anchor="middle">4:20 am</text>
<text x="346.48" y="139.31" font-size="9.5" text-anchor="middle">28.0 ft</text>
<text x="346.48" y="149.41" font-size="9.5" text-anchor="middle">8.52 m</text>
<circle cx="367.18" cy="373.03" r="1.8" fill="#000"/>
<text x="367.18" y="384.03" font-size="9.5" text-anchor="middle">0.40 m</text>
<text x="367.18" y="393.63" font-size="9.5" text-anchor="middle">1.3 ft</text>
<text x="367.18" y="402.03" font-size="9.5" text-anchor="middle">10:49 am</text>
<circle cx="386.02" cy="156.22" r="1.8" fill="#000"/>
<text x="386.02" y="134.32" font-size="9.5" text-anchor="middle">4:43 pm</text>
<text x="386.02" y="143.12" font-size="9.5" text-anchor="middle">27.5 ft</text>
<text x="386.02" y="153.22" font-size="9.5" text-anchor="middle">8.38 m</text>
<circle cx="406.88" cy="382.00" r="1.8" fill="#000"/>
<text x="406.88" y="393.00" font-size="9.5" text-anchor="middle">0.07 m</text>
<text x="406.88" y="402.60" font-size="9.5" text-anchor="middle">0.2 ft</text>
<text x="406.88" y="411.00" font-size="9.5" text-anchor="middle">11:15 pm</text>
<circle cx="426.15" cy="146.98" r="1.8" fill="#000"/>
<text x="426.15" y="125.08" font-size="9.5" text-anchor="middle">5:17 am</text>
<text x="426.15" y="133.88" font-size="9.5" text-anchor="middle">28.6 ft</text>
<text x="426.15" y="143.98" font-size="9.5" text-anchor="middle">8.72 m</text>
<circle cx="447.27" cy="377.11" r="1.8" fill="#000"/>
<text x="447.27" y="388.11" font-size="9.5" text-anchor="middle">0.25 m</text>
<text x="447.27" y="397.71" font-size="9.5" text-anchor="middle">0.8 ft</text>
<text x="447.27" y="406.11" font-size="9.5" text-anchor="middle">11:54 am</text>
<circle cx="466.11" cy="161.92" r="1.8" fill="#000"/>
<text x="466.11" y="140.02" font-size="9.5" text-anchor="middle">5:48 pm</text>
<text x="466.11" y="148.82" font-size="9.5" text-anchor="middle">26.8 ft</text>
<text x="466.11" y="158.92" font-size="9.5" text-anchor="middle">8.17 m</text>
<circle cx="486.66" cy="378.47" r="1.8" fill="#000"/>
<text x="486.66" y="389.47" font-size="9.5" text-anchor="middle">0.20 m</text>
<text x="486.66" y="399.07" font-size="9.5" text-anchor="middle">0.7 ft</text>
<text x="486.66" y="407.47" font-size="9.5" text-anchor="middle">12:14 am</text>
<circle cx="506.03" cy="140.19" r="1.8" fill="#000"/>
<text x="506.03" y="118.29" font-size="9.5" text-anchor="middle">6:18 am</text>
<text x="506.03" y="127.09" font-size="9.5" text-anchor="middle">29.4 ft</text>
<text x="506.03" y="137.19" font-size="9.5" text-anchor="middle">8.97 m</text>
<circle cx="527.47" cy="383.90" r="1.8" fill="#000"/>
<text x="527.47" y="394.90" font-size="9.5" text-anchor="middle">−0.00 m</text>
<text x="527.47" y="404.50" font-size="9.5" text-anchor="middle">−0.0 ft</text>
<text x="527.47" y="412.90" font-size="9.5" text-anchor="middle">1:01 pm</text>
<circle cx="546.31" cy="164.64" r="1.8" fill="#000"/>
<text x="546.31" y="142.74" font-size="9.5" text-anchor="middle">6:55 pm</text>
<text x="546.31" y="151.54" font-size="9.5" text-anchor="middle">26.5 ft</text>
<text x="546.31" y="161.64" font-size="9.5" text-anchor="middle">8.07 m</text>
<circle cx="566.59" cy="376.84" r="1.8" fill="#000"/>
<text x="566.59" y="387.84" font-size="9.5" text-anchor="middle">0.26 m</text>
<text x="566.59" y="397.44" font-size="9.5" text-anchor="middle">0.9 ft</text>
<text x="566.59" y="405.84" font-size="9.5" text-anchor="middle">1:16 am</text>
<circle cx="585.90" cy="132.58" r="1.8" fill="#000"/>
<text x="585.90" y="110.68" font-size="9.5" text-anchor="middle">7:19 am</text>
<text x="585.90" y="119.48" font-size="9.5" text-anchor="middle">30.3 ft</text>
<text x="585.90" y="129.58" font-size="9.5" text-anchor="middle">9.25 m</text>
<circle cx="607.56" cy="393.14" r="1.8" fill="#000"/>
<text x="607.56" y="404.14" font-size="9.5" text-anchor="middle">−0.34 m</text>
<text x="607.56" y="413.74" font-size="9.5" text-anchor="middle">−1.1 ft</text>
<text x="607.56" y="422.14" font-size="9.5" text-anchor="middle">2:06 pm</text>
<circle cx="626.51" cy="163.28" r="1.8" fill="#000"/>
<text x="626.51" y="141.38" font-size="9.5" text-anchor="middle">8:02 pm</text>
<text x="626.51" y="150.18" font-size="9.5" text-anchor="middle">26.6 ft</text>
<text x="626.51" y="160.28" font-size="9.5" text-anchor="middle">8.12 m</text>
<circle cx="646.46" cy="377.92" r="1.8" fill="#000"/>
<text x="646.46" y="388.92" font-size="9.5" text-anchor="middle">0.22 m</text>
<text x="646.46" y="398.52" font-size="9.5" text-anchor="middle">0.7 ft</text>
<text x="646.46" y="406.92" font-size="9.5" text-anchor="middle">2:17 am</text>
<circle cx="665.73" cy="124.43" r="1.8" fill="#000"/>
<text x="665.73" y="102.53" font-size="9.5" text-anchor="middle">8:19 am</text>
<text x="665.73" y="111.33" font-size="9.5" text-anchor="middle">31.3 ft</text>
<text x="665.73" y="121.43" font-size="9.5" text-anchor="middle">9.55 m</text>
<circle cx="687.44" cy="402.65" r="1.8" fill="#000"/>
<text x="687.44" y="413.65" font-size="9.5" text-anchor="middle">−0.69 m</text>
<text x="687.44" y="423.25" font-size="9.5" text-anchor="middle">−2.3 ft</text>
<text x="687.44" y="431.65" font-size="9.5" text-anchor="middle">3:07 pm</text>
<path d="M392.6 348.9 L401.4 348.9 L397 356.3 Z" fill="#f3ea48" stroke="#a8801c" stroke-width="0.6"/>
<text x="46" y="480.0" font-size="11.1" text-anchor="end">Sunrise</text>
<text x="746.2" y="480.0" font-size="11.1">Sunrise</text>
<text x="46" y="493.5" font-size="11.1" text-anchor="end">Sunset</text>
<text x="746.2" y="493.5" font-size="11.1">Sunset</text>
<text x="46" y="506.9" font-size="11.1" text-anchor="end">Moonrise</text>
<text x="746.2" y="506.9" font-size="11.1">Moonrise</text>
<text x="46" y="520.4" font-size="11.1" text-anchor="end">Moonset</text>
<text x="746.2" y="520.4" font-size="11.1">Moonset</text>
<polygon points="125.85,468.60 127.84,472.85 132.50,473.44 129.08,476.65 129.96,481.26 125.85,479.00 121.73,481.26 122.61,476.65 119.19,473.44 123.85,472.85" fill="#8b6914"/><circle cx="125.85" cy="475.60" r="4.3" fill="#c5bd3f" stroke="#8b6914" stroke-width="0.9"/>
<text x="132.85" y="479.3" font-size="9.5">7:14am</text>
<polygon points="154.96,482.10 156.95,486.35 161.61,486.94 158.19,490.15 159.07,494.76 154.96,492.50 150.84,494.76 151.72,490.15 148.30,486.94 152.96,486.35" fill="#8b6914"/><circle cx="154.96" cy="489.10" r="4.3" fill="#d93226" stroke="#8b6914" stroke-width="0.9"/>
<text x="161.76" y="493.1" font-size="9.5">4:21pm</text>
<polygon points="202.48,468.60 204.48,472.85 209.14,473.44 205.71,476.65 206.59,481.26 202.48,479.00 198.36,481.26 199.24,476.65 195.82,473.44 200.48,472.85" fill="#8b6914"/><circle cx="202.48" cy="475.60" r="4.3" fill="#c5bd3f" stroke="#8b6914" stroke-width="0.9"/>
<text x="209.48" y="479.3" font-size="9.5">7:14am</text>
<polygon points="231.64,482.10 233.64,486.35 238.30,486.94 234.87,490.15 235.76,494.76 231.64,492.50 227.53,494.76 228.41,490.15 224.98,486.94 229.64,486.35" fill="#8b6914"/><circle cx="231.64" cy="489.10" r="4.3" fill="#d93226" stroke="#8b6914" stroke-width="0.9"/>
<text x="238.44" y="493.1" font-size="9.5">4:22pm</text>
<polygon points="279.11,468.60 281.11,472.85 285.77,473.44 282.34,476.65 283.22,481.26 279.11,479.00 275.00,481.26 275.88,476.65 272.45,473.44 277.11,472.85" fill="#8b6914"/><circle cx="279.11" cy="475.60" r="4.3" fill="#c5bd3f" stroke="#8b6914" stroke-width="0.9"/>
<text x="286.11" y="479.3" font-size="9.5">7:14am</text>
<polygon points="308.33,482.10 310.32,486.35 314.98,486.94 311.56,490.15 312.44,494.76 308.33,492.50 304.21,494.76 305.09,490.15 301.67,486.94 306.33,486.35" fill="#8b6914"/><circle cx="308.33" cy="489.10" r="4.3" fill="#d93226" stroke="#8b6914" stroke-width="0.9"/>
<text x="315.13" y="493.1" font-size="9.5">4:23pm</text>
<polygon points="355.74,468.60 357.74,472.85 362.40,473.44 358.98,476.65 359.86,481.26 355.74,479.00 351.63,481.26 352.51,476.65 349.08,473.44 353.74,472.85" fill="#8b6914"/><circle cx="355.74" cy="475.60" r="4.3" fill="#c5bd3f" stroke="#8b6914" stroke-width="0.9"/>
<text x="362.74" y="479.3" font-size="9.5">7:14am</text>
<polygon points="385.01,482.10 387.01,486.35 391.67,486.94 388.24,490.15 389.13,494.76 385.01,492.50 380.90,494.76 381.78,490.15 378.35,486.94 383.01,486.35" fill="#8b6914"/><circle cx="385.01" cy="489.10" r="4.3" fill="#d93226" stroke="#8b6914" stroke-width="0.9"/>
<text x="391.81" y="493.1" font-size="9.5">4:24pm</text>
<polygon points="432.32,468.60 434.32,472.85 438.98,473.44 435.55,476.65 436.44,481.26 432.32,479.00 428.21,481.26 429.09,476.65 425.66,473.44 430.32,472.85" fill="#8b6914"/><circle cx="432.32" cy="475.60" r="4.3" fill="#c5bd3f" stroke="#8b6914" stroke-width="0.9"/>
<text x="439.32" y="479.3" font-size="9.5">7:13am</text>
<polygon points="461.70,482.10 463.69,486.35 468.35,486.94 464.93,490.15 465.81,494.76 461.70,492.50 457.58,494.76 458.46,490.15 455.04,486.94 459.70,486.35" fill="#8b6914"/><circle cx="461.70" cy="489.10" r="4.3" fill="#d93226" stroke="#8b6914" stroke-width="0.9"/>
<text x="468.50" y="493.1" font-size="9.5">4:25pm</text>
<polygon points="508.95,468.60 510.95,472.85 515.61,473.44 512.19,476.65 513.07,481.26 508.95,479.00 504.84,481.26 505.72,476.65 502.30,473.44 506.95,472.85" fill="#8b6914"/><circle cx="508.95" cy="475.60" r="4.3" fill="#c5bd3f" stroke="#8b6914" stroke-width="0.9"/>
<text x="515.95" y="479.3" font-size="9.5">7:13am</text>
<polygon points="538.38,482.10 540.38,486.35 545.04,486.94 541.62,490.15 542.50,494.76 538.38,492.50 534.27,494.76 535.15,490.15 531.72,486.94 536.38,486.35" fill="#8b6914"/><circle cx="538.38" cy="489.10" r="4.3" fill="#d93226" stroke="#8b6914" stroke-width="0.9"/>
<text x="545.18" y="493.1" font-size="9.5">4:26pm</text>
<polygon points="585.58,468.60 587.58,472.85 592.24,473.44 588.82,476.65 589.70,481.26 585.58,479.00 581.47,481.26 582.35,476.65 578.93,473.44 583.59,472.85" fill="#8b6914"/><circle cx="585.58" cy="475.60" r="4.3" fill="#c5bd3f" stroke="#8b6914" stroke-width="0.9"/>
<text x="592.58" y="479.3" font-size="9.5">7:13am</text>
<polygon points="615.07,482.10 617.07,486.35 621.72,486.94 618.30,490.15 619.18,494.76 615.07,492.50 610.95,494.76 611.83,490.15 608.41,486.94 613.07,486.35" fill="#8b6914"/><circle cx="615.07" cy="489.10" r="4.3" fill="#d93226" stroke="#8b6914" stroke-width="0.9"/>
<text x="621.87" y="493.1" font-size="9.5">4:27pm</text>
<polygon points="662.22,468.60 664.22,472.85 668.87,473.44 665.45,476.65 666.33,481.26 662.22,479.00 658.10,481.26 658.98,476.65 655.56,473.44 660.22,472.85" fill="#8b6914"/><circle cx="662.22" cy="475.60" r="4.3" fill="#c5bd3f" stroke="#8b6914" stroke-width="0.9"/>
<text x="669.22" y="479.3" font-size="9.5">7:13am</text>
<polygon points="691.75,482.10 693.75,486.35 698.41,486.94 694.99,490.15 695.87,494.76 691.75,492.50 687.64,494.76 688.52,490.15 685.09,486.94 689.75,486.35" fill="#8b6914"/><circle cx="691.75" cy="489.10" r="4.3" fill="#d93226" stroke="#8b6914" stroke-width="0.9"/>
<text x="698.55" y="493.1" font-size="9.5">4:28pm</text>
<circle cx="170.65" cy="503.0" r="4.9" fill="#ffffc8" stroke="#8a8a8a" stroke-width="1"/>
<text x="177.95" y="507.1" font-size="9.5">9:16pm</text>
<circle cx="251.12" cy="503.0" r="4.9" fill="#ffffc8" stroke="#8a8a8a" stroke-width="1"/>
<text x="257.62" y="507.1" font-size="9.5">10:28pm</text>
<circle cx="331.58" cy="503.0" r="4.9" fill="#ffffc8" stroke="#8a8a8a" stroke-width="1"/>
<text x="338.08" y="507.1" font-size="9.5">11:40pm</text>
<circle cx="412.10" cy="503.0" r="4.9" fill="#ffffc8" stroke="#8a8a8a" stroke-width="1"/>
<text x="418.60" y="507.1" font-size="9.5">12:53am</text>
<circle cx="492.67" cy="503.0" r="4.9" fill="#ffffc8" stroke="#8a8a8a" stroke-width="1"/>
<text x="499.97" y="507.1" font-size="9.5">2:07am</text>
<circle cx="573.34" cy="503.0" r="4.9" fill="#ffffc8" stroke="#8a8a8a" stroke-width="1"/>
<text x="580.64" y="507.1" font-size="9.5">3:23am</text>
<circle cx="654.02" cy="503.0" r="4.9" fill="#ffffc8" stroke="#8a8a8a" stroke-width="1"/>
<text x="661.32" y="507.1" font-size="9.5">4:39am</text>
<circle cx="136.01" cy="516.5" r="4.9" fill="#c8c8b8" stroke="#7c7c7c" stroke-width="1"/>
<text x="142.61" y="520.0" font-size="9.5">10:25am</text>
<circle cx="214.13" cy="516.5" r="4.9" fill="#c8c8b8" stroke="#7c7c7c" stroke-width="1"/>
<text x="220.73" y="520.0" font-size="9.5">10:53am</text>
<circle cx="292.15" cy="516.5" r="4.9" fill="#c8c8b8" stroke="#7c7c7c" stroke-width="1"/>
<text x="298.75" y="520.0" font-size="9.5">11:19am</text>
<circle cx="370.11" cy="516.5" r="4.9" fill="#c8c8b8" stroke="#7c7c7c" stroke-width="1"/>
<text x="376.71" y="520.0" font-size="9.5">11:44am</text>
<circle cx="448.18" cy="516.5" r="4.9" fill="#c8c8b8" stroke="#7c7c7c" stroke-width="1"/>
<text x="454.78" y="520.0" font-size="9.5">12:11pm</text>
<circle cx="526.41" cy="516.5" r="4.9" fill="#c8c8b8" stroke="#7c7c7c" stroke-width="1"/>
<text x="533.01" y="520.0" font-size="9.5">12:41pm</text>
<circle cx="604.90" cy="516.5" r="4.9" fill="#c8c8b8" stroke="#7c7c7c" stroke-width="1"/>
<text x="612.30" y="520.0" font-size="9.5">1:16pm</text>
<circle cx="683.82" cy="516.5" r="4.9" fill="#c8c8b8" stroke="#7c7c7c" stroke-width="1"/>
<text x="691.22" y="520.0" font-size="9.5">1:59pm</text>
<text x="291.5" y="532.6" font-size="9.4">Last Quarter | 4:38am</text>
</svg></body></html>
